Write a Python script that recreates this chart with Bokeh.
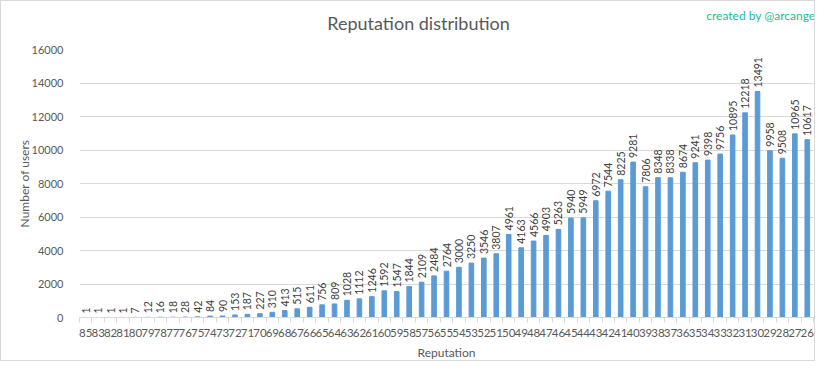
import math
from bokeh.plotting import figure
from bokeh.models import ColumnDataSource, FixedTicker, Label
from bokeh.embed import file_html
from bokeh.resources import INLINE
from bokeh.core.properties import value

reputation = ["85", "83", "82", "81", "80", "79", "78", "77", "76", "75", "74", "73", "72",
              "71", "70", "69", "68", "67", "66", "65", "64", "63", "62", "61", "60", "59",
              "58", "57", "56", "55", "54", "53", "52", "51", "50", "49", "48", "47", "46",
              "45", "44", "43", "42", "41", "40", "39", "38", "37", "36", "35", "34", "33",
              "32", "31", "30", "29", "28", "27", "26"]
users = [1, 1, 1, 1, 7, 12, 16, 18, 28, 42, 84, 90, 153, 187, 227, 310, 413, 515, 611, 756,
         809, 1028, 1112, 1246, 1592, 1547, 1844, 2109, 2484, 2764, 3000, 3250, 3546, 3807,
         4961, 4163, 4566, 4903, 5263, 5940, 5949, 6972, 7544, 8225, 9281, 7806, 8348, 8338,
         8674, 9241, 9398, 9756, 10895, 12218, 13491, 9958, 9508, 10965, 10617]
y_ticks = [0, 2000, 4000, 6000, 8000, 10000, 12000, 14000, 16000]

n = len(reputation)
xs = list(range(n))
src = ColumnDataSource(dict(x=xs, y=users, lab=[str(v) for v in users]))

FONT = "Lato"
GRAY = "#595959"

p = figure(width=815, height=361, output_backend="svg", toolbar_location=None,
           x_range=(-0.5, n - 0.5), y_range=(0, 16000),
           min_border_left=78, min_border_right=3, min_border_top=48, min_border_bottom=40,
           styles={"border": "1px solid #d9d9d9"})
p.outline_line_color = None
p.background_fill_color = "white"
p.border_fill_color = "white"

p.vbar(x="x", top="y", width=0.37, color="#5b9bd5", source=src)
p.text(x="x", y="y", text="lab", source=src, angle=math.pi / 2,
       text_align="left", text_baseline="middle", y_offset=-4,
       text_font=value(FONT), text_font_size="10.5px", text_color="#404040")

# chart title and credit line, placed in the top panel
p.add_layout(Label(x=416, y=20, x_units="canvas", y_units="canvas",
                   text="Reputation distribution", text_align="center", text_baseline="middle",
                   text_font=FONT, text_font_size="18px", text_color=GRAY), "above")
p.add_layout(Label(x=813, y=13, x_units="canvas", y_units="canvas",
                   text="created by @arcange", text_align="right", text_baseline="middle",
                   text_font=FONT, text_font_size="12px", text_color="#1abc9c"), "above")

# x axis
p.xaxis.ticker = FixedTicker(ticks=xs, minor_ticks=[i - 0.5 for i in range(n + 1)])
p.xaxis.major_label_overrides = {i: r for i, r in enumerate(reputation)}
p.xaxis.major_tick_line_color = None
p.xaxis.minor_tick_line_color = "#d9d9d9"
p.xaxis.minor_tick_out = 5
p.xaxis.minor_tick_in = 0
p.xaxis.axis_line_color = "#d9d9d9"
p.xaxis.major_label_text_font = FONT
p.xaxis.major_label_text_font_size = "11.5px"
p.xaxis.major_label_text_color = GRAY
p.xaxis.major_label_standoff = 5
p.xaxis.axis_label = "Reputation"
p.xaxis.axis_label_text_font = FONT
p.xaxis.axis_label_text_font_style = "normal"
p.xaxis.axis_label_text_font_size = "12px"
p.xaxis.axis_label_text_color = GRAY
p.xaxis.axis_label_standoff = 5

# y axis
p.yaxis.ticker = FixedTicker(ticks=y_ticks)
p.yaxis.axis_line_color = None
p.yaxis.major_tick_line_color = None
p.yaxis.minor_tick_line_color = None
p.yaxis.major_label_text_font = FONT
p.yaxis.major_label_text_font_size = "11px"
p.yaxis.major_label_text_color = GRAY
p.yaxis.major_label_standoff = 10
p.yaxis.axis_label = "Number of users"
p.yaxis.axis_label_text_font = FONT
p.yaxis.axis_label_text_font_style = "normal"
p.yaxis.axis_label_text_font_size = "12px"
p.yaxis.axis_label_text_color = GRAY
p.yaxis.axis_label_standoff = -3

p.xgrid.grid_line_color = None
p.ygrid.grid_line_color = "#d9d9d9"

open("out.html", "w").write(file_html(p, INLINE))
